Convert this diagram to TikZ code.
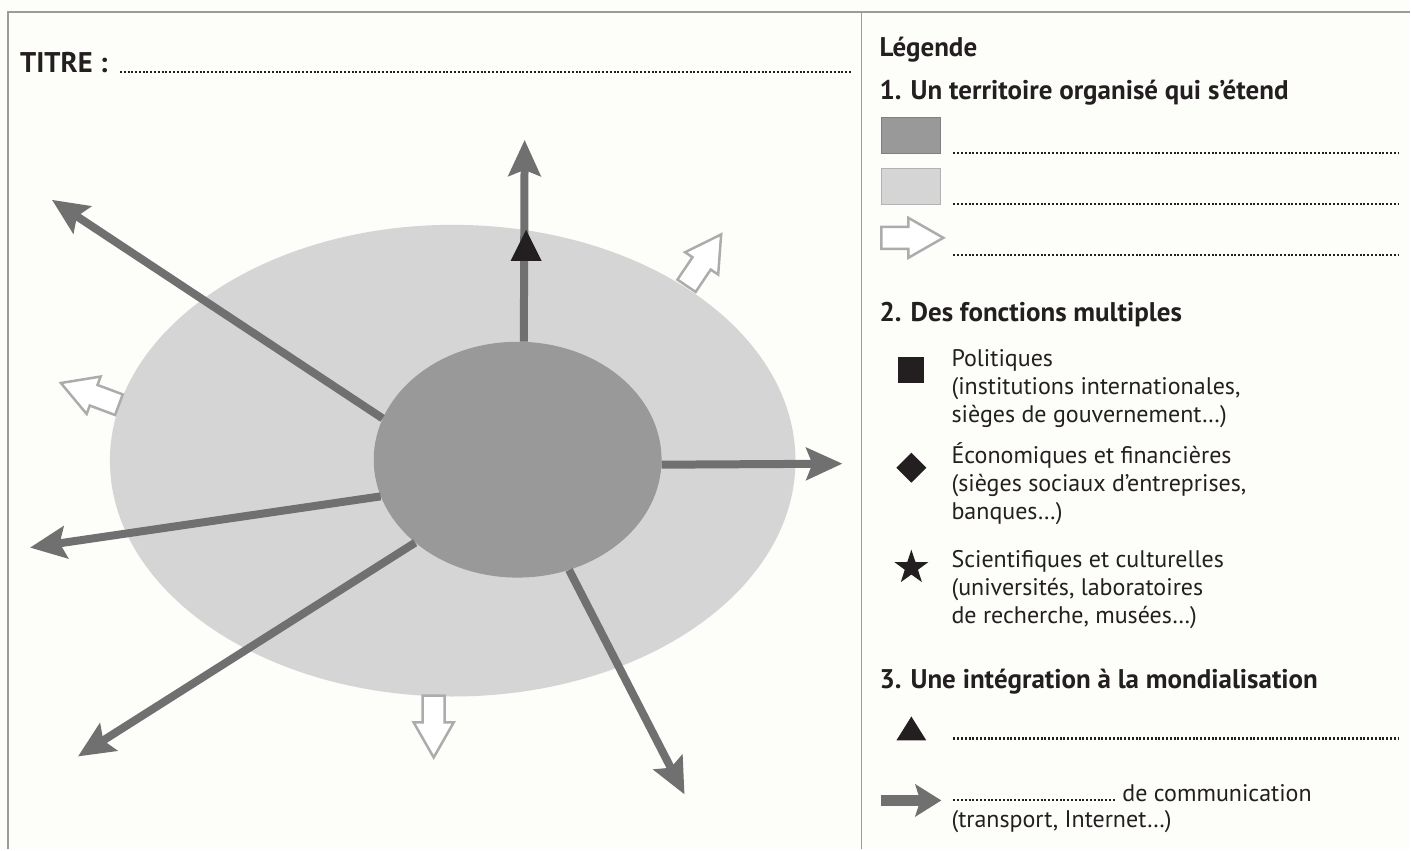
\documentclass[tikz,border=0pt]{standalone}
\usepackage{fontspec}
\setmainfont{PT Sans}
\usetikzlibrary{arrows.meta,shapes.geometric}

\definecolor{fond}{RGB}{253,253,250}
\definecolor{cadre}{RGB}{155,155,155}
\definecolor{centreC}{RGB}{153,153,153}
\definecolor{periC}{RGB}{213,213,213}
\definecolor{fluxC}{RGB}{112,112,112}
\definecolor{creuxC}{RGB}{172,172,172}
\definecolor{encre}{RGB}{35,31,32}

\begin{document}
\begin{tikzpicture}[x=1pt, y=1pt,
        T/.style = {anchor=base west, inner sep=0pt, text=encre,% plain legend text
                font=\fontsize{24}{28}\selectfont},
        H/.style = {T, font=\fontsize{27}{30}\selectfont\bfseries},% headings
        D/.style = {draw=encre, line width=2.2pt,% dotted answer lines
                dash pattern=on 2pt off 1.8pt},
        F/.style = {draw=fluxC, line width=8pt,% communication flows
                -{Stealth[length=36pt, width=32pt, inset=6pt]}},
        S/.style = {fill=encre, inner sep=0pt, outer sep=0pt},% symbols
        pics/creux/.style = {code={% hollow arrow, tail at the origin
                \draw[creuxC, fill=white, line width=2.5pt, line join=miter]
                (0,-11) -- (27,-11) -- (27,-20) -- (62,0) -- (27,20) -- (27,11) -- (0,11) -- cycle;}},
    ]
    \fill[fond] (0,0) rectangle (1411,850);
    \draw[cadre, line width=2pt] (8,0) -- (8,838) -- (1411,838);
    \draw[cadre, line width=1.5pt] (862,0) -- (862,838);

    % title
    \node[H, font=\fontsize{28.5}{30}\selectfont\bfseries] (titre) at (20,777) {TITRE :};
    \draw[D] (120,778) -- (852,778);

    % the map
    \node[ellipse, fill=periC, inner sep=0pt,
        minimum width=686pt, minimum height=472pt] (peri) at (453,389) {};
    \pic[rotate=56] at (687,564) {creux};
    \pic[rotate=159.5] at (119,445) {creux};
    \pic[rotate=-90] at (434,154) {creux};
    \node[ellipse, fill=centreC, inner sep=0pt,
        minimum width=288pt, minimum height=236pt] (centre) at (518,390) {};

    \coordinate (nord)  at (525,710);
    \coordinate (no)    at (52,650);
    \coordinate (est)   at (843,386);
    \coordinate (ouest) at (30,302);
    \coordinate (so)    at (78,93);
    \coordinate (se)    at (685,55);
    \draw[F] (centre.87)  -- (nord);
    \draw[F] (centre.163) -- (no);
    \draw[F] (centre.-2)  -- (est);
    \draw[F] (centre.195) -- (ouest);
    \draw[F] (centre.219) -- (so);
    \draw[F] (centre.295) -- (se);
    \fill[encre] (511,589) -- (542,589) -- (526.5,620) -- cycle;

    % legend
    \node[H] (leg) at (880,793) {Légende};
    \node[H] (h1)  at (880,750) {1. Un territoire organisé qui s’étend};
    \node[draw=black!50, fill=centreC, line width=1pt, anchor=south west,
        minimum width=59pt, minimum height=36pt] (bc) at (882,696) {};
    \node[draw=black!30, fill=periC, line width=1pt, anchor=south west,
        minimum width=59pt, minimum height=36pt] (bp) at (882,645) {};
    \pic at (882,612) {creux};
    \draw[D] (954,697) -- (1400,697);
    \draw[D] (954,646) -- (1400,646);
    \draw[D] (954,595) -- (1400,595);

    \node[H] (h2) at (880,528) {2. Des fonctions multiples};
    \node[S, minimum size=26pt] (pol) at (912,480) {};
    \node[T] (pol1) at (952,483) {Politiques};
    \node[T] (pol2) at (952,455) {(institutions internationales,};
    \node[T] (pol3) at (952,427) {sièges de gouvernement…)};
    \node[S, diamond, minimum width=30pt, minimum height=30pt] (eco) at (912,382) {};
    \node[T] (eco1) at (952,386) {Économiques et financières};
    \node[T] (eco2) at (952,358) {(sièges sociaux d’entreprises,};
    \node[T] (eco3) at (952,330) {banques…)};
    \node[S, star, star points=5, star point ratio=2.6, minimum size=36pt] (sci) at (912,282) {};
    \node[T] (sci1) at (952,282) {Scientifiques et culturelles};
    \node[T] (sci2) at (952,254) {(universités, laboratoires};
    \node[T] (sci3) at (952,226) {de recherche, musées…)};

    \node[H] (h3) at (880,161) {3. Une intégration à la mondialisation};
    \fill[encre] (897,109) -- (927,109) -- (912,133) -- cycle;
    \draw[D] (954,111) -- (1400,111);
    \coordinate (fl0) at (882,49);
    \coordinate (fl1) at (942,49);
    \draw[draw=fluxC, line width=11pt, -{Stealth[length=26pt, width=32pt, inset=5pt]}] (fl0) -- (fl1);
    \node[T] (comm1) at (1123,48) {de communication};
    \draw[D] (954,49.5) -- (1117,49.5);
    \node[T] (comm2) at (952,22) {(transport, Internet…)};
\end{tikzpicture}
\end{document}
